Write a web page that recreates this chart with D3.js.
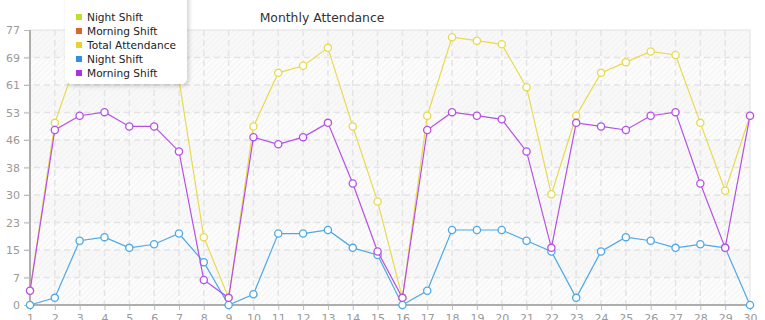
<!DOCTYPE html>
<html>
<head>
<meta charset="utf-8">
<script src="https://cdn.jsdelivr.net/npm/d3@7"></script>
<style>
body { margin: 0; background: #fff; }
text { font-family: "DejaVu Sans", Verdana, sans-serif; }
</style>
</head>
<body>
<div class="canvas"></div>
<script>
const margin = {top: 30, right: 15, bottom: 15, left: 30}
const width = 765, height = 320
const graphWidth = width - margin.left - margin.right
const graphHeight = height - margin.top - margin.bottom

const days = [1, 2, 3, 4, 5, 6, 7, 8, 9, 10, 11, 12, 13, 14, 15,
  16, 17, 18, 19, 20, 21, 22, 23, 24, 25, 26, 27, 28, 29, 30]
const morningShift = [4, 49, 53, 54, 50, 50, 43, 7, 2, 47, 45, 47, 51, 34, 15,
  2, 49, 54, 53, 52, 43, 16, 51, 50, 49, 53, 54, 34, 16, 53]
const nightShift = [0, 2, 18, 19, 16, 17, 20, 12, 0, 3, 20, 20, 21, 16, 14,
  0, 4, 21, 21, 21, 18, 15, 2, 15, 19, 18, 16, 17, 16, 0]
const totalAttendance = [4, 51, 71, 73, 66, 67, 63, 19, 2, 50, 65, 67, 72, 50, 29,
  2, 53, 75, 74, 73, 61, 31, 53, 65, 68, 71, 70, 51, 32, 53]
const yTicks = [0, 7.7, 15.4, 23.1, 30.8, 38.5, 46.2, 53.9, 61.6, 69.3, 77]
const yTickLabels = ['0', '7', '15', '23', '30', '38', '46', '53', '61', '69', '77']
const legendNames = ['Night Shift', 'Morning Shift', 'Total Attendance', 'Night Shift', 'Morning Shift']
const legendColours = ['#bde02a', '#e0622e', '#e6d42c', '#2f90e0', '#b02fe0']

const series = [
  {values: totalAttendance, colour: '#e8da4e'},
  {values: nightShift, colour: '#4ea8e6'},
  {values: morningShift, colour: '#b650e4'}
]

const svg = d3.select('.canvas')
  .append('svg')
  .attr('width', width)
  .attr('height', height)

const defs = svg.append('defs')
const hatch = defs.append('pattern')
  .attr('id', 'hatch')
  .attr('width', 4).attr('height', 4)
  .attr('patternUnits', 'userSpaceOnUse')
  .attr('patternTransform', 'rotate(45)')
hatch.append('rect').attr('width', 4).attr('height', 4).attr('fill', '#fcfcfc')
hatch.append('line').attr('x1', 0).attr('y1', 0).attr('x2', 0).attr('y2', 4)
  .attr('stroke', '#ededed').attr('stroke-width', 1.1)

const shadow = defs.append('filter').attr('id', 'shadow')
  .attr('x', '-20%').attr('y', '-20%').attr('width', '140%').attr('height', '140%')
shadow.append('feDropShadow')
  .attr('dx', 2).attr('dy', 2).attr('stdDeviation', 2)
  .attr('flood-color', '#000').attr('flood-opacity', 0.18)

const x = d3.scaleLinear().domain([1, 30]).range([0, graphWidth])
const y = d3.scaleLinear().domain([0, 77]).range([graphHeight, 0])

const graph = svg.append('g')
  .attr('transform', `translate(${margin.left}, ${margin.top})`)

// plot background
graph.append('rect')
  .attr('width', graphWidth).attr('height', graphHeight)
  .attr('fill', 'url(#hatch)')
graph.selectAll('.band')
  .data(yTicks.slice(0, -1).filter((d, i) => i % 2 == 1))
  .enter().append('rect')
  .attr('x', 0).attr('width', graphWidth)
  .attr('y', d => y(d + 7.7)).attr('height', d => y(d) - y(d + 7.7))
  .attr('fill', '#f2f2f2').attr('opacity', 0.35)
graph.append('rect')
  .attr('width', graphWidth).attr('height', graphHeight)
  .attr('fill', 'none').attr('stroke', '#e2e2e2')

// grid
graph.append('g')
  .selectAll('line').data(yTicks.slice(1, -1)).enter().append('line')
  .attr('x1', -6).attr('x2', graphWidth)
  .attr('y1', d => y(d)).attr('y2', d => y(d))
  .attr('stroke', '#e4e4e4').attr('stroke-width', 1.5).attr('stroke-dasharray', '6,4')
graph.append('g')
  .selectAll('line').data(days.slice(1, -1)).enter().append('line')
  .attr('y1', 0).attr('y2', graphHeight)
  .attr('x1', d => x(d)).attr('x2', d => x(d))
  .attr('stroke', '#e4e4e4').attr('stroke-width', 1.5).attr('stroke-dasharray', '6,4')

// axes
const yAxis = d3.axisLeft(y).tickValues(yTicks)
  .tickFormat((d, i) => yTickLabels[i]).tickSize(6).tickPadding(4)
const xAxis = d3.axisBottom(x).tickValues(days).tickSize(5).tickPadding(4)

const yAxisGroup = graph.append('g').call(yAxis)
const xAxisGroup = graph.append('g')
  .attr('transform', `translate(0, ${graphHeight})`).call(xAxis)

;[xAxisGroup, yAxisGroup].forEach(g => {
  g.select('.domain').attr('stroke', '#999').attr('stroke-width', 1.5)
  g.selectAll('.tick line').attr('stroke', '#bbb')
  g.selectAll('.tick text').attr('fill', '#999').style('font-size', '11px')
})
yAxisGroup.select('.domain').attr('d', `M0,0V${graphHeight}`)
xAxisGroup.select('.domain').attr('d', `M0,0H${graphWidth}`)

// series
const line = d3.line().x((d, i) => x(days[i])).y(d => y(d))
series.forEach(s => {
  graph.append('path')
    .datum(s.values)
    .attr('d', line)
    .attr('fill', 'none')
    .attr('stroke', s.colour)
    .attr('stroke-width', 1.2)
  graph.append('g').selectAll('circle')
    .data(s.values).enter().append('circle')
    .attr('cx', (d, i) => x(days[i]))
    .attr('cy', d => y(d))
    .attr('r', 3.6)
    .attr('fill', '#fff')
    .attr('stroke', s.colour)
    .attr('stroke-width', 1.3)
})

// title
svg.append('text')
  .attr('x', 322).attr('y', 22)
  .attr('text-anchor', 'middle')
  .attr('fill', '#333')
  .style('font-size', '12.4px')
  .text('Monthly Attendance')

// legend
const legend = svg.append('g').attr('transform', 'translate(65, 0)')
legend.append('rect')
  .attr('x', 0).attr('y', -8)
  .attr('width', 122).attr('height', 92)
  .attr('rx', 6)
  .attr('fill', '#fff')
  .attr('filter', 'url(#shadow)')
const items = legend.selectAll('.item')
  .data(legendNames).enter().append('g')
  .attr('transform', (d, i) => `translate(0, ${17 + i * 14})`)
items.append('rect')
  .attr('x', 11).attr('y', -3).attr('width', 6).attr('height', 6)
  .attr('fill', (d, i) => legendColours[i])
items.append('text')
  .attr('x', 22).attr('y', 4)
  .attr('fill', '#222')
  .style('font-size', '10.6px')
  .text(d => d)
</script>
</body>
</html>
